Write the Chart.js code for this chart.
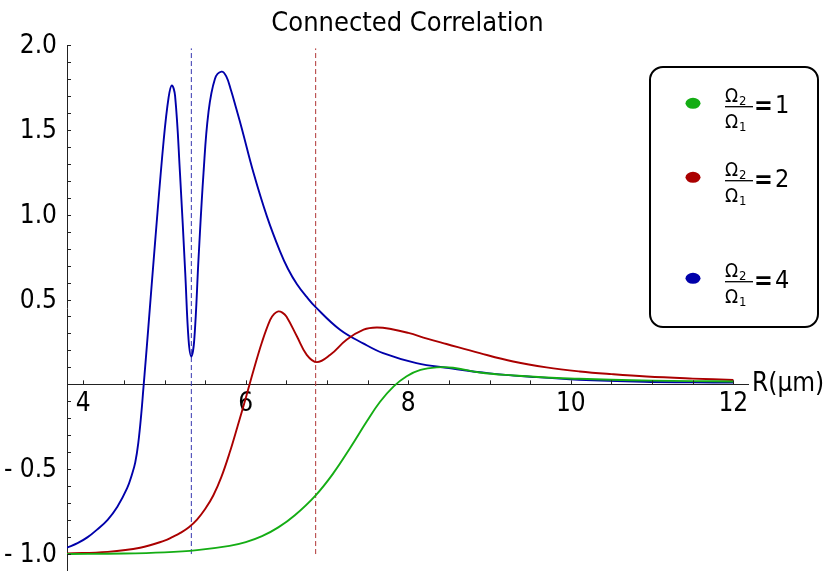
<!DOCTYPE html>
<html>
<head>
<meta charset="utf-8">
<script src="https://cdn.jsdelivr.net/npm/chart.js@4.4.1/dist/chart.umd.min.js"></script>
<style>
  html, body { margin: 0; padding: 0; background: #fff; }
</style>
</head>
<body>
<canvas id="c" width="831" height="571"></canvas>
<script>
// 축 범위
const X_MIN = 3.8, X_MAX = 12.18;
const Y_MIN = -1.1, Y_MAX = 2.0;

// 눈금 라벨
const X_MAJOR = [4, 6, 8, 10, 12];
const X_LABELS = ['4', '6', '8', '10', '12'];
const Y_MAJOR = [-1.0, -0.5, 0.5, 1.0, 1.5, 2.0];
const Y_LABELS = ['- 1.0', '- 0.5', '0.5', '1.0', '1.5', '2.0'];

// Ω2/Ω1 = 1
const GREEN_R = [3.8, 4.5, 5.0, 5.4, 5.8, 6.0, 6.2, 6.4, 6.6, 6.86, 7.08, 7.28, 7.49, 7.65, 7.82, 7.98, 8.15, 8.35, 8.55, 8.88, 9.3, 9.7, 10.1, 10.5, 11.0, 11.5, 12.0];
const GREEN_C = [-1.0, -0.997, -0.99, -0.977, -0.952, -0.93, -0.895, -0.843, -0.773, -0.654, -0.522, -0.378, -0.218, -0.104, -0.012, 0.048, 0.085, 0.1, 0.098, 0.07, 0.052, 0.04, 0.033, 0.027, 0.022, 0.019, 0.017];

// Ω2/Ω1 = 2
const RED_R = [3.8, 4.3, 4.7, 5.0, 5.1, 5.2, 5.3, 5.4, 5.5, 5.6, 5.7, 5.8, 5.9, 6.0, 6.1, 6.2, 6.3, 6.35, 6.4, 6.45, 6.5, 6.63, 6.75, 6.875, 7.04, 7.24, 7.45, 7.61, 7.8, 8.0, 8.23, 8.47, 8.88, 9.29, 9.7, 10.11, 10.5, 10.93, 11.5, 12.0];
const RED_C = [-0.996, -0.987, -0.963, -0.921, -0.899, -0.874, -0.842, -0.797, -0.735, -0.655, -0.545, -0.405, -0.245, -0.08, 0.09, 0.25, 0.38, 0.415, 0.43, 0.423, 0.40, 0.282, 0.174, 0.131, 0.174, 0.263, 0.322, 0.335, 0.325, 0.303, 0.27, 0.238, 0.184, 0.135, 0.1, 0.076, 0.06, 0.046, 0.034, 0.026];

// Ω2/Ω1 = 4
const BLUE_R = [3.8, 3.93, 4.05, 4.17, 4.30, 4.42, 4.54, 4.60, 4.64, 4.677, 4.714, 4.739, 4.77, 4.80, 4.886, 4.99, 5.05, 5.09, 5.13, 5.19, 5.255, 5.296, 5.33, 5.366, 5.42, 5.48, 5.54, 5.62, 5.70, 5.76, 5.82, 5.88, 5.95, 6.095, 6.26, 6.42, 6.52, 6.63, 6.75, 6.86, 7.16, 7.45, 7.69, 8.1, 8.5, 9.0, 9.5, 10.1, 10.9, 11.5, 12.0];
const BLUE_C = [-0.962, -0.936, -0.902, -0.856, -0.798, -0.721, -0.612, -0.53, -0.46, -0.346, -0.174, -0.03, 0.15, 0.33, 0.85, 1.44, 1.69, 1.762, 1.70, 1.247, 0.656, 0.263, 0.164, 0.263, 0.754, 1.247, 1.60, 1.80, 1.843, 1.815, 1.73, 1.63, 1.51, 1.247, 0.99, 0.785, 0.68, 0.59, 0.515, 0.455, 0.322, 0.24, 0.184, 0.125, 0.096, 0.065, 0.045, 0.027, 0.015, 0.012, 0.01];

// 점선 세로선
const VLINE_BLUE_R = [5.33, 5.33];
const VLINE_RED_R = [6.86, 6.86];
const VLINE_C = [-1.0, 1.98];

const SERIES_NAMES = ['1', '2', '4'];
const COLORS = ['#14ad14', '#aa0000', '#0000aa'];

const FONT = "'DejaVu Sans Condensed', 'DejaVu Sans', sans-serif";

const pts = (xs, ys) => xs.map((x, i) => ({ x, y: ys[i] }));
const near = (a, b) => Math.abs(a - b) < 1e-6;

function curve(label, xs, ys, color) {
  return {
    label, data: pts(xs, ys),
    borderColor: color, borderWidth: 1.9,
    pointRadius: 0, fill: false,
    tension: 0.4,
  };
}
function vline(xs, color) {
  return {
    label: '', data: pts(xs, VLINE_C),
    borderColor: color, borderWidth: 1, borderDash: [5, 3],
    pointRadius: 0, fill: false, tension: 0,
  };
}

// 축이 차지하는 여백 없애기
function noPad(scale) {
  scale.paddingTop = 0; scale.paddingBottom = 0;
  scale.paddingLeft = 0; scale.paddingRight = 0;
}

// 안쪽으로 향한 눈금, 축 제목, 범례
const decor = {
  id: 'decor',
  afterDraw(chart) {
    const { ctx, scales: { x, y }, chartArea: ca } = chart;
    const y0 = y.getPixelForValue(0);
    ctx.save();
    ctx.strokeStyle = '#222';
    ctx.lineWidth = 1;
    ctx.beginPath();
    x.ticks.forEach(t => {
      const px = Math.round(x.getPixelForValue(t.value)) + 0.5;
      ctx.moveTo(px, y0); ctx.lineTo(px, y0 - 4);
    });
    y.ticks.forEach(t => {
      const py = Math.round(y.getPixelForValue(t.value)) + 0.5;
      ctx.moveTo(ca.left, py); ctx.lineTo(ca.left + 4, py);
    });
    ctx.stroke();

    // R(μm)
    ctx.fillStyle = '#000';
    ctx.font = `26px ${FONT}`;
    ctx.textBaseline = 'middle';
    ctx.textAlign = 'left';
    ctx.fillText('R(μm)', ca.right + 4, y0);

    // 범례 박스
    ctx.lineWidth = 2;
    ctx.strokeStyle = '#000';
    ctx.beginPath();
    ctx.roundRect(650, 67, 168, 260, 13);
    ctx.stroke();

    const bars = [106.7, 180.7, 281.7];
    SERIES_NAMES.forEach((name, i) => {
      const b = bars[i];
      ctx.fillStyle = COLORS[i];
      ctx.beginPath();
      ctx.ellipse(693, b - 3.4, 7.5, 5.5, 0, 0, Math.PI * 2);
      ctx.fill();

      ctx.fillStyle = '#000';
      ctx.textBaseline = 'alphabetic';
      ctx.textAlign = 'left';
      ctx.font = `19px ${FONT}`;
      const ow = ctx.measureText('Ω').width;
      ctx.fillText('Ω', 725, b - 5);
      ctx.fillText('Ω', 725, b + 21);
      ctx.font = `13px ${FONT}`;
      ctx.fillText('2', 725 + ow + 1, b - 2);
      ctx.fillText('1', 725 + ow + 1, b + 24);

      ctx.strokeStyle = '#000';
      ctx.lineWidth = 1.3;
      ctx.beginPath();
      ctx.moveTo(725, b); ctx.lineTo(753, b);
      ctx.stroke();

      ctx.textBaseline = 'middle';
      ctx.font = `bold 25px ${FONT}`;
      ctx.fillText('=', 754, b + 1);
      ctx.font = `25px ${FONT}`;
      ctx.fillText(name, 775, b);
    });
    ctx.restore();
  }
};

new Chart(document.getElementById('c'), {
  type: 'line',
  data: {
    datasets: [
      curve('Ω2/Ω1=1', GREEN_R, GREEN_C, COLORS[0]),
      curve('Ω2/Ω1=2', RED_R, RED_C, COLORS[1]),
      curve('Ω2/Ω1=4', BLUE_R, BLUE_C, COLORS[2]),
      vline(VLINE_BLUE_R, '#3535b0'),
      vline(VLINE_RED_R, '#b03535'),
    ]
  },
  options: {
    responsive: false,
    animation: false,
    events: [],
    layout: { padding: { left: 0, right: 83, top: 0, bottom: 0 } },
    plugins: {
      legend: { display: false },
      tooltip: { enabled: false },
      title: {
        display: true,
        text: 'Connected Correlation',
        color: '#000',
        fullSize: false,
        font: { family: FONT, size: 27, weight: 'normal' },
        padding: { top: 7.5, bottom: 5.1 },
      },
    },
    scales: {
      x: {
        type: 'linear',
        min: X_MIN, max: X_MAX, bounds: 'data',
        position: { y: 0 },
        afterFit(scale) { scale.height = 0; noPad(scale); },
        afterBuildTicks(axis) {
          const t = [];
          for (let v = 4; v <= 12.001; v += 0.5) t.push({ value: Math.round(v * 10) / 10 });
          axis.ticks = t;
        },
        grid: { display: false, drawTicks: false },
        border: { display: true, color: '#222', width: 1 },
        ticks: {
          autoSkip: false, maxRotation: 0, padding: 4,
          color: '#000',
          font: { family: FONT, size: 26 },
          callback(v) {
            const i = X_MAJOR.findIndex(m => near(m, v));
            return i >= 0 ? X_LABELS[i] : '';
          }
        }
      },
      y: {
        type: 'linear',
        min: Y_MIN, max: Y_MAX, bounds: 'data',
        position: 'left',
        afterFit(scale) { scale.width = 67; noPad(scale); },
        afterBuildTicks(axis) {
          const t = [];
          for (let k = -11; k <= 20; k++) t.push({ value: k / 10 });
          axis.ticks = t;
        },
        grid: { display: false, drawTicks: false },
        border: { display: true, color: '#222', width: 1 },
        ticks: {
          autoSkip: false, padding: 10, labelOffset: 1.5,
          color: '#000',
          font: { family: FONT, size: 26 },
          callback(v) {
            const i = Y_MAJOR.findIndex(m => near(m, v));
            return i >= 0 ? Y_LABELS[i] : '';
          }
        }
      }
    }
  },
  plugins: [decor]
});
</script>
</body>
</html>
